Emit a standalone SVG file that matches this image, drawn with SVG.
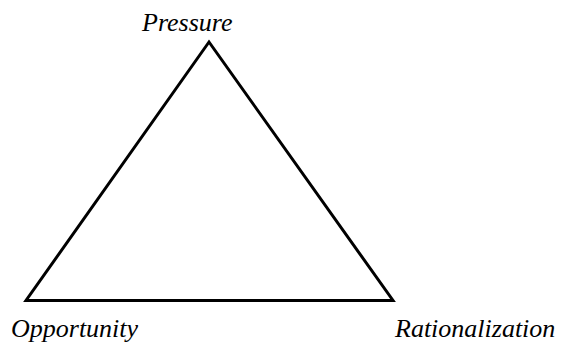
<svg xmlns="http://www.w3.org/2000/svg" width="561" height="342" viewBox="0 0 561 342">
<style>
.lbl{font-family:Liberation Serif,serif;font-style:italic;font-size:26px;fill:#000}
.edge{fill:none;stroke:#000;stroke-width:3;stroke-linejoin:miter}
</style>
<rect width="561" height="342" fill="#fff"/>
<g id="connectors">
<polygon class="edge" points="209,42 26,300.5 393,300.5"/>
</g>
<g id="pressure"><text class="lbl" x="142" y="31">Pressure</text></g>
<g id="opportunity"><text class="lbl" x="11" y="337">Opportunity</text></g>
<g id="rationalization"><text class="lbl" x="395" y="337">Rationalization</text></g>
</svg>
